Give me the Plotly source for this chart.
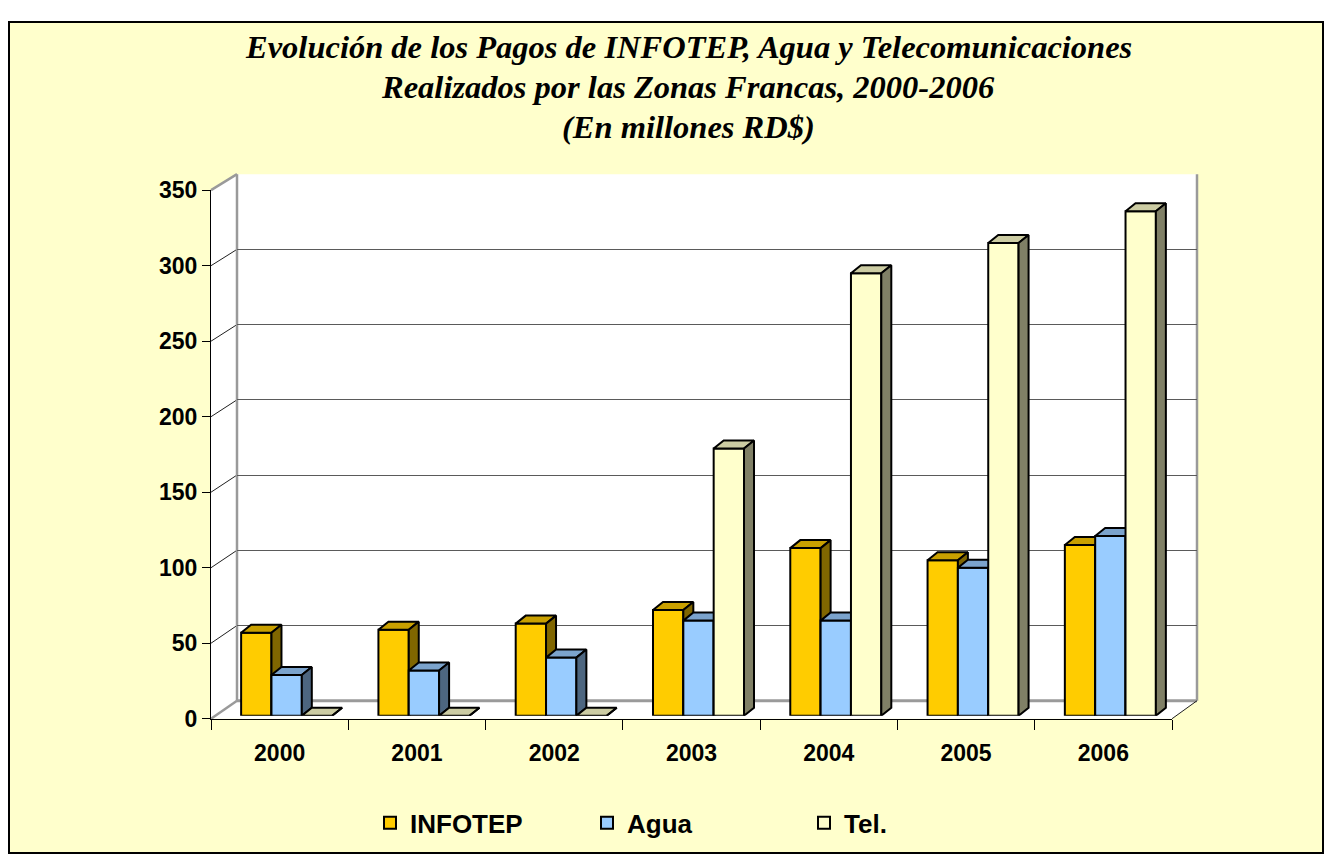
import plotly.graph_objects as go

# ---------------- data ----------------
years = ["2000", "2001", "2002", "2003", "2004", "2005", "2006"]
infotep = [55, 57, 61, 70, 111, 103, 113]
agua = [27, 30, 38.5, 63, 63, 98, 119]
tel = [0, 0, 0, 177, 293, 313, 334]
series_names = ["INFOTEP", "Agua", "Tel."]
y_ticks = [0, 50, 100, 150, 200, 250, 300, 350]
title_lines = ["Evolución de los Pagos de INFOTEP, Agua y Telecomunicaciones",
               "Realizados por las Zonas Francas, 2000-2006",
               "(En millones RD$)"]

# ---------------- styling / layout constants ----------------
W, H = 1317, 859
# measured placement of the figure in the captured picture
OX = 8            # left offset (px)
OY = 21           # top offset (px)
SY = 0.9687       # vertical scale of the capture
front_colors = ["#FFCC00", "#99CCFF", "#FFFFCC"]
top_colors = ["#C9A000", "#7BA3CC", "#CCCCA3"]
side_colors = ["#806600", "#4D6680", "#808066"]
YMAX = 350
TITLE_Y = [47, 87, 127]

# target positions in picture pixels
FRONT = dict(x0=211, x1=1172, yb=718, yt=190)   # front plane
BACK = dict(x0=237, x1=1197, yb=700, yt=174)    # back wall
BARS = dict(x0=218, x1=1179, yb=715, yt=187)    # plane of the bar front faces
DEPTH_PX = (10, 8)                               # bar depth offset (right, up)
GROUP_FRAC = 0.663                               # fraction of category used by bars


def fx(px):
    return (px - OX) / W


def fy(py):
    return 1 - ((py - OY) / SY) / H


n = len(years)
idx = list(range(n))
xr = [-0.5, n - 0.5]
bw = GROUP_FRAC / 3
px_per_x = (BARS["x1"] - BARS["x0"]) / n
px_per_y = (BARS["yb"] - BARS["yt"]) / YMAX
ddx = DEPTH_PX[0] / px_per_x
ddy = DEPTH_PX[1] / px_per_y

fig = go.Figure()

# back wall axes (gridlines) and front axes (labels)
fig.add_trace(go.Scatter(x=[None], y=[None], xaxis="x", yaxis="y", showlegend=False, hoverinfo="skip"))
fig.add_trace(go.Scatter(x=[None], y=[None], xaxis="x2", yaxis="y2", showlegend=False, hoverinfo="skip"))

all_vals = [infotep, agua, tel]
axis_ids = [("x3", "y3"), ("x4", "y4"), ("x5", "y5")]
for j, (vals, name) in enumerate(zip(all_vals, series_names)):
    xa, ya = axis_ids[j]
    off = -GROUP_FRAC / 2 + j * bw
    fig.add_trace(go.Bar(
        x=idx, y=vals, width=bw, offset=off, name=name,
        marker=dict(color=front_colors[j], line=dict(color="black", width=2)),
        xaxis=xa, yaxis=ya, hoverinfo="y",
    ))
    tx, ty, sx, sy = [], [], [], []
    for i, v in enumerate(vals):
        xl = i + off
        xrr = xl + bw
        tx += [xl, xrr, xrr + ddx, xl + ddx, xl, None]
        ty += [v, v, v + ddy, v + ddy, v, None]
        sx += [xrr, xrr + ddx, xrr + ddx, xrr, xrr, None]
        sy += [0, ddy, v + ddy, v, 0, None]
    fig.add_trace(go.Scatter(x=tx, y=ty, mode="lines", fill="toself", fillcolor=top_colors[j],
                             line=dict(color="black", width=2), xaxis=xa, yaxis=ya,
                             showlegend=False, hoverinfo="skip"))
    fig.add_trace(go.Scatter(x=sx, y=sy, mode="lines", fill="toself", fillcolor=side_colors[j],
                             line=dict(color="black", width=2), xaxis=xa, yaxis=ya,
                             showlegend=False, hoverinfo="skip"))

# ---------------- decoration shapes ----------------
shapes = []
shapes.append(dict(type="rect", xref="paper", yref="paper", x0=fx(9), x1=fx(1323), y0=fy(852), y1=fy(22),
                   fillcolor="#FFFFCC", line=dict(color="black", width=2), layer="below"))


def poly(pts, fill):
    path = "M " + " L ".join(f"{fx(a)},{fy(b)}" for a, b in pts) + " Z"
    return dict(type="path", xref="paper", yref="paper", path=path, fillcolor=fill,
                line=dict(color=fill, width=0), layer="below")


def seg(p, q, color, width):
    return dict(type="line", xref="paper", yref="paper", x0=fx(p[0]), y0=fy(p[1]), x1=fx(q[0]), y1=fy(q[1]),
                line=dict(color=color, width=width), layer="below")


F, B = FRONT, BACK
shapes.append(poly([(B["x0"], B["yt"]), (B["x1"], B["yt"]), (B["x1"], B["yb"]), (B["x0"], B["yb"])], "white"))
shapes.append(poly([(F["x0"], F["yt"]), (B["x0"], B["yt"]), (B["x0"], B["yb"]), (F["x0"], F["yb"])], "white"))
shapes.append(poly([(F["x0"], F["yb"]), (F["x1"], F["yb"]), (B["x1"], B["yb"]), (B["x0"], B["yb"])], "white"))


def fpy(v):
    return F["yb"] - (F["yb"] - F["yt"]) * v / YMAX


def bpy(v):
    return B["yb"] - (B["yb"] - B["yt"]) * v / YMAX


for v in y_ticks[1:-1]:
    shapes.append(seg((F["x0"], fpy(v)), (B["x0"], bpy(v)), "#202020", 1))
edge = "#9A9A9A"
shapes.append(seg((B["x0"], B["yt"]), (B["x0"], B["yb"]), edge, 2.5))
shapes.append(seg((B["x1"], B["yt"]), (B["x1"], B["yb"]), edge, 2.5))
shapes.append(seg((B["x0"], B["yb"]), (B["x1"], B["yb"]), edge, 3))
shapes.append(seg((F["x0"], F["yt"]), (B["x0"], B["yt"]), edge, 2.5))
shapes.append(seg((F["x0"], F["yb"]), (B["x0"], B["yb"]), edge, 2.5))
shapes.append(seg((F["x1"], F["yb"]), (B["x1"], B["yb"]), "#202020", 1))

bold = dict(family="Liberation Sans, Arial, sans-serif", size=23, color="black", weight="bold")
hidden = dict(visible=False, showgrid=False, zeroline=False)

annotations = [dict(text=f"<b><i>{line}</i></b>", xref="paper", yref="paper", x=fx(688), y=fy(yy),
                    xanchor="center", yanchor="middle", showarrow=False,
                    font=dict(family="Liberation Serif, Times New Roman, serif", size=32.5, color="black"))
               for line, yy in zip(title_lines, TITLE_Y)]

fig.update_layout(
    width=W, height=H,
    margin=dict(l=0, r=0, t=0, b=0),
    paper_bgcolor="white",
    plot_bgcolor="rgba(0,0,0,0)",
    barmode="overlay",
    shapes=shapes,
    annotations=annotations,
    xaxis=dict(domain=[fx(B["x0"]), fx(B["x1"])], range=xr, anchor="y",
               showgrid=False, zeroline=False, showticklabels=False, showline=False),
    yaxis=dict(domain=[fy(B["yb"]), fy(B["yt"])], range=[0, YMAX], anchor="x",
               tickvals=y_ticks, showgrid=True, gridcolor="#5A5A5A", gridwidth=1.2,
               zeroline=False, showticklabels=False, showline=False),
    xaxis2=dict(domain=[fx(F["x0"]), fx(F["x1"])], range=xr, anchor="y2",
                tickvals=idx, ticktext=years, ticks="outside", ticklen=14, tickcolor="rgba(0,0,0,0)",
                tickfont=bold, showgrid=False, zeroline=False,
                showline=True, linecolor="black", linewidth=1.2,
                minor=dict(tickvals=[i - 0.5 for i in range(n + 1)], ticks="outside", ticklen=10,
                           tickcolor="black", tickwidth=1.2, showgrid=False)),
    yaxis2=dict(domain=[fy(F["yb"]), fy(F["yt"])], range=[0, YMAX], anchor="x2",
                tickvals=y_ticks, ticks="outside", ticklen=8, tickcolor="black", tickwidth=1.2,
                tickfont=bold, showgrid=False, zeroline=False,
                showline=True, linecolor="black", linewidth=1.2),
    xaxis3=dict(domain=[fx(BARS["x0"]), fx(BARS["x1"])], range=xr, anchor="y3", **hidden),
    yaxis3=dict(domain=[fy(BARS["yb"]), fy(BARS["yt"])], range=[0, YMAX], anchor="x3", **hidden),
    xaxis4=dict(overlaying="x3", range=xr, anchor="y4", **hidden),
    yaxis4=dict(overlaying="y3", range=[0, YMAX], anchor="x4", **hidden),
    xaxis5=dict(overlaying="x3", range=xr, anchor="y5", **hidden),
    yaxis5=dict(overlaying="y3", range=[0, YMAX], anchor="x5", **hidden),
    legend=dict(orientation="h", x=fx(370), xanchor="left", y=fy(822), yanchor="middle",
                bgcolor="rgba(0,0,0,0)", entrywidth=172, entrywidthmode="pixels",
                font=dict(family="Liberation Sans, Arial, sans-serif", size=26, color="black", weight="bold"),
                traceorder="normal"),
    showlegend=True,
)

fig.write_html("out.html")
